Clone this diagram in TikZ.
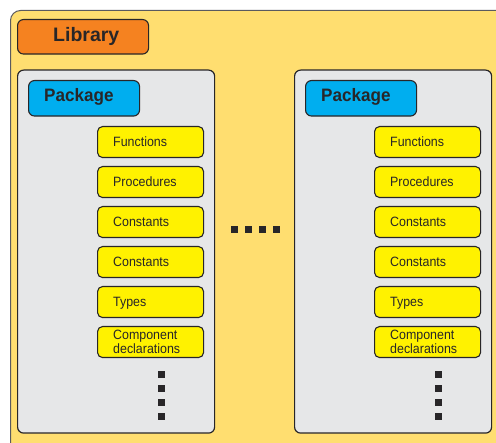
\documentclass[tikz,border=0pt]{standalone}
\usepackage{fontspec}
\setmainfont{Liberation Sans}
\newfontfamily\itemfont[FakeStretch=0.92]{Liberation Sans}
\newfontfamily\pkgfont[FakeStretch=0.95]{Liberation Sans}
\definecolor{libyellow}{RGB}{255,222,112}
\definecolor{liborange}{RGB}{245,130,32}
\definecolor{pkgblue}{RGB}{0,174,239}
\definecolor{pkggray}{RGB}{230,231,232}
\definecolor{itemyellow}{RGB}{255,242,0}
\definecolor{edgec}{RGB}{40,38,40}
\definecolor{outeredge}{RGB}{90,90,95}
\tikzset{
  outerbox/.style={draw=outeredge, line width=1pt, fill=libyellow, rounded corners=10pt, inner sep=0pt},
  libbox/.style={draw=edgec, line width=1.1pt, fill=liborange, rounded corners=6pt, inner sep=0pt},
  pkgbox/.style={draw=edgec, line width=1.2pt, fill=pkggray, rounded corners=6pt, inner sep=0pt},
  pkglabel/.style={draw=edgec, line width=1.1pt, fill=pkgblue, rounded corners=6pt, inner sep=0pt},
  itembox/.style={draw=edgec, line width=1.1pt, fill=itemyellow, rounded corners=5pt, inner sep=0pt, minimum width=106pt, minimum height=31pt},
  libtext/.style={anchor=base west, inner sep=0pt, text=edgec, font=\fontsize{19.5}{23}\selectfont\bfseries},
  pkgtext/.style={anchor=base west, inner sep=0pt, text=edgec, font=\pkgfont\fontsize{18}{21}\selectfont\bfseries},
  itemtext/.style={anchor=base west, inner sep=0pt, text=edgec, font=\itemfont\fontsize{13.5}{14.5}\selectfont},
  dotsq/.style={rectangle, fill=edgec, draw=none, inner sep=0pt, minimum size=7pt},
}
\begin{document}
\begin{tikzpicture}[x=1pt,y=-1pt]
\useasboundingbox (0,0) rectangle (496,443);
\begin{scope}
  \clip (0,0) rectangle (496,443);
  \node[outerbox, anchor=north west, minimum width=530pt, minimum height=480pt] (library) at (10,10) {};
\end{scope}
\node[libbox, anchor=north west, minimum width=131pt, minimum height=34.5pt] (libbox) at (17,19) {};
\node[libtext] (libtxt) at (53,42) {Library};
\foreach \ox/\nm in {0/L,277/R}{
  \node[pkgbox, anchor=north west, minimum width=197pt, minimum height=363pt] (pkg\nm) at (17+\ox,69.5) {};
  \node[pkglabel, anchor=north west, minimum width=111pt, minimum height=35.5pt] (pkglab\nm) at (28+\ox,80) {};
  \node[pkgtext] (pkgtxt\nm) at (44+\ox,102) {Package};
  \foreach \k/\t in {0/Functions,1/Procedures,2/Constants,3/Constants,4/Types}{
    \node[itembox, anchor=north west] (item\nm\k) at (97+\ox,126+40*\k) {};
    \node[itemtext] (itemtxt\nm\k) at (113+\ox,146.7+40*\k) {\t};
  }
  \node[itembox, anchor=north west] (item\nm5) at (97+\ox,326) {};
  \node[itemtext] (compa\nm) at (113+\ox,339.5) {Component};
  \node[itemtext] (compb\nm) at (113+\ox,354) {declarations};
  \foreach \k in {0,...,3}{
    \node[dotsq] (vdot\nm\k) at (161.5+\ox,374.5+14*\k) {};
  }
}
\foreach \k in {0,...,3}{
  \node[dotsq] (hdot\k) at (234.5+14*\k,229.5) {};
}
\end{tikzpicture}
\end{document}
